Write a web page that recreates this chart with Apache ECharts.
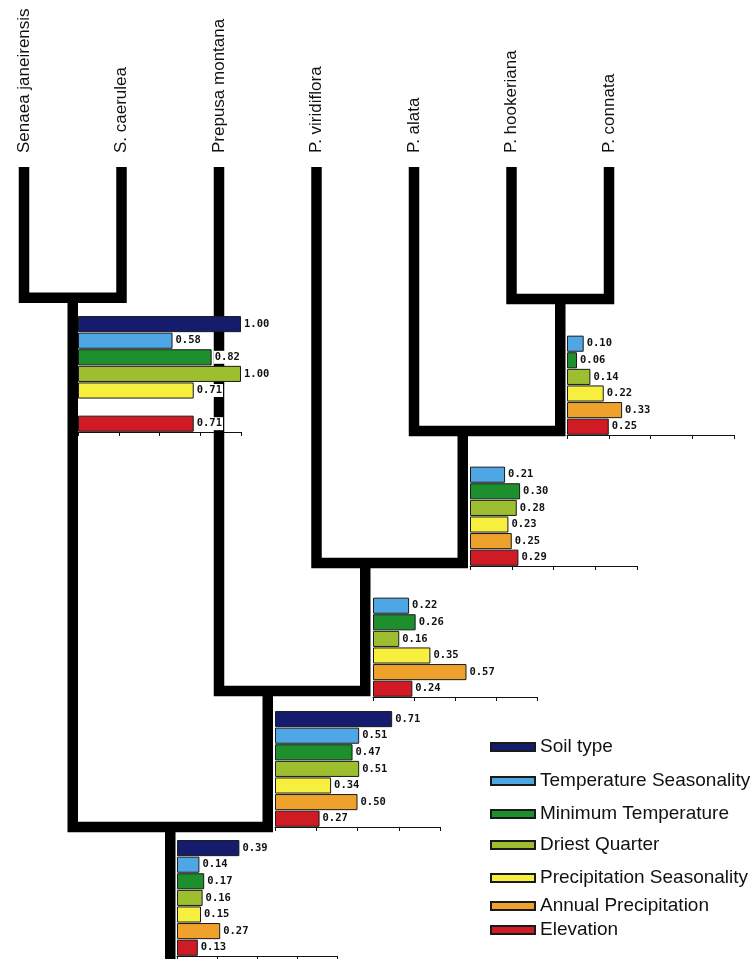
<!DOCTYPE html>
<html>
<head>
<meta charset="utf-8">
<script src="https://cdn.jsdelivr.net/npm/echarts@6/dist/echarts.min.js"></script>
<style>
  html, body { margin: 0; background: #fff; }
  #chart { width: 755px; height: 959px; }
</style>
</head>
<body>
<div id="chart"></div>
<script>
// taxa, left to right
const taxa = ['Senaea janeirensis', 'S. caerulea', 'Prepusa montana', 'P. viridiflora', 'P. alata', 'P. hookeriana', 'P. connata'];

// internal nodes: children (t = taxon, n = node), stem position in taxon units, depth level
const nodeLeft  = ['t0', 't5', 't4', 't3', 't2', 'n0'];
const nodeRight = ['t1', 't6', 'n1', 'n2', 'n3', 'n4'];
const nodeX     = [0.5, 5.5, 4.5, 3.5, 2.5, 1.5];
const nodeLevel = [0.99, 1.0, 2.0, 3.0, 3.97, 5.0];

const variables = ['Soil type', 'Temperature Seasonality', 'Minimum Temperature', 'Driest Quarter',
  'Precipitation Seasonality', 'Annual Precipitation', 'Elevation'];
const colors = ['#151c6e', '#4ea6e4', '#1d8f2c', '#9dbf2f', '#f6ef3d', '#efa22b', '#d01b25'];

// values per node, in the order of variables
const senaeaNode      = [1.00, 0.58, 0.82, 1.00, 0.71, null, 0.71];
const hookConnataNode = [null, 0.10, 0.06, 0.14, 0.22, 0.33, 0.25];
const alataNode       = [null, 0.21, 0.30, 0.28, 0.23, 0.25, 0.29];
const viridifloraNode = [null, 0.22, 0.26, 0.16, 0.35, 0.57, 0.24];
const montanaNode     = [0.71, 0.51, 0.47, 0.51, 0.34, 0.50, 0.27];
const rootNode        = [0.39, 0.14, 0.17, 0.16, 0.15, 0.27, 0.13];
const nodeValues = [senaeaNode, hookConnataNode, alataNode, viridifloraNode, montanaNode, rootNode];

// layout of the small bar charts hanging under each node
const chartLeft  = [78, 567, 470, 373, 275, 177];
const chartWidth = [163, 167, 167, 164, 165, 160];
const chartAxisY = [432, 435, 566, 697, 827, 956];
const rowH = 16.6;
const legendY = [747, 781, 814, 845, 878, 906, 930];

const chart = echarts.init(document.getElementById('chart'));

function pos(ref) {
  const i = +ref.slice(1);
  return ref[0] === 't' ? [i, 0] : [nodeX[i], nodeLevel[i]];
}

const grids = [], xAxes = [], yAxes = [], series = [];

nodeValues.forEach((vals, k) => {
  grids.push({
    left: chartLeft[k], top: chartAxisY[k] - rowH * 7,
    width: chartWidth[k], height: rowH * 7
  });
  xAxes.push({
    gridIndex: k, type: 'value', min: 0, max: 1, interval: 0.25,
    axisLine: { show: true, lineStyle: { color: '#111', width: 1 } },
    axisTick: { show: true, length: 4, lineStyle: { color: '#111' } },
    axisLabel: { show: false },
    splitLine: { show: false }
  });
  yAxes.push({
    gridIndex: k, type: 'category', data: variables, inverse: true, show: false
  });
  variables.forEach((v, j) => {
    series.push({
      name: v,
      type: 'bar',
      xAxisIndex: k,
      yAxisIndex: k,
      stack: 'node' + k,
      barCategoryGap: '3%',
      z: 3,
      data: variables.map((_, r) => (r === j ? vals[r] : null)),
      itemStyle: { color: colors[j], borderColor: '#1a1a1a', borderWidth: 1 },
      label: {
        show: true,
        position: 'right',
        distance: 2,
        formatter: p => (p.value == null ? '' : Number(p.value).toFixed(2)),
        fontFamily: 'DejaVu Sans Mono',
        fontWeight: 'bold',
        fontSize: 10.5,
        color: '#111',
        backgroundColor: '#fff',
        padding: [1, 1]
      },
      emphasis: { disabled: true }
    });
  });
});

// tree grid spanning the page
const treeIdx = nodeValues.length;
grids.push({ left: 24, top: 167, width: 585, height: 793 });
xAxes.push({
  gridIndex: treeIdx, type: 'value', min: 0, max: 6, interval: 1, position: 'top',
  axisLine: { show: false }, axisTick: { show: false }, splitLine: { show: false },
  axisLabel: {
    show: true, rotate: 90, margin: 14,
    formatter: v => taxa[v] || '',
    fontFamily: 'Liberation Sans', fontSize: 17, color: '#111'
  }
});
yAxes.push({
  gridIndex: treeIdx, type: 'value', min: 0, max: 6, inverse: true, show: false
});

const treeLine = (data) => ({
  type: 'line',
  xAxisIndex: treeIdx,
  yAxisIndex: treeIdx,
  data: data,
  symbol: 'none',
  clip: false,
  z: 1,
  silent: true,
  lineStyle: { color: '#000', width: 10.5, cap: 'butt', join: 'miter' }
});

nodeLeft.forEach((l, k) => {
  const L = pos(l), R = pos(nodeRight[k]);
  const lev = nodeLevel[k];
  series.push(treeLine([[L[0], L[1]], [L[0], lev], [R[0], lev], [R[0], R[1]]]));
});
// root stem
series.push(treeLine([[nodeX[5], nodeLevel[5]], [nodeX[5], 6]]));

const legends = variables.map((v, j) => ({
  data: [v],
  left: 490,
  top: legendY[j] - 10,
  padding: 0,
  itemWidth: 44,
  itemHeight: 8,
  icon: 'rect',
  selectedMode: false,
  textStyle: { fontFamily: 'Liberation Sans', fontSize: 19, lineHeight: 20, color: '#111' }
}));

chart.setOption({
  animation: false,
  backgroundColor: '#fff',
  legend: legends,
  grid: grids,
  xAxis: xAxes,
  yAxis: yAxes,
  series: series
});
</script>
</body>
</html>
